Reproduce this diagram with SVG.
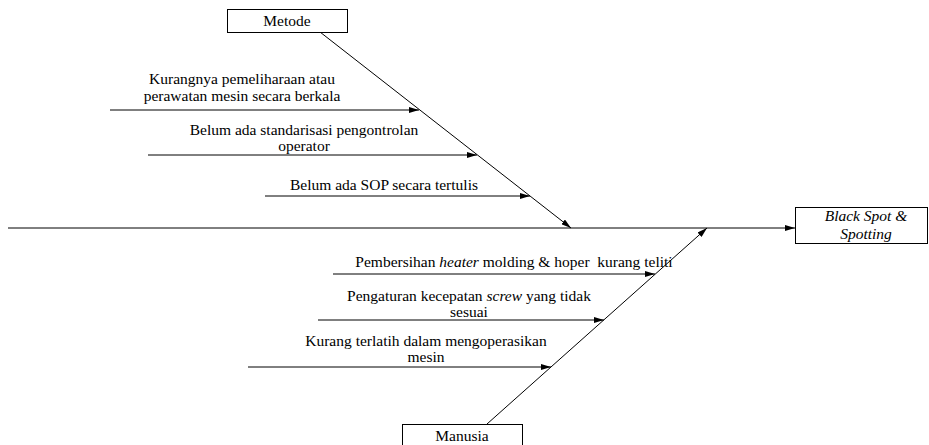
<svg xmlns="http://www.w3.org/2000/svg" width="929" height="445" viewBox="0 0 929 445">
<style>
text{font-family:'Liberation Serif','Times New Roman','DejaVu Serif',serif;font-size:15.5px;fill:#000;text-anchor:middle}
.box{fill:#fff;stroke:#000;stroke-width:1}
.ln{stroke:#000;stroke-width:1;fill:none;marker-end:url(#ah)}
.it{font-style:italic}
</style>
<defs>
<marker id="ah" viewBox="0 0 10 6" refX="10" refY="3" markerWidth="10" markerHeight="6" markerUnits="userSpaceOnUse" orient="auto">
<path d="M0,0 L10,3 L0,6 Z" fill="#000"/>
</marker>
</defs>
<rect width="929" height="445" fill="#fff"/>
<g id="connectors">
<line class="ln" x1="8" y1="228" x2="795" y2="228"/>
<line class="ln" x1="320" y1="32" x2="571" y2="228"/>
<line class="ln" x1="487" y1="424" x2="707" y2="228"/>
<line class="ln" x1="110" y1="110" x2="419" y2="110"/>
<line class="ln" x1="148" y1="155" x2="477" y2="155"/>
<line class="ln" x1="265" y1="196" x2="530" y2="196"/>
<line class="ln" x1="333" y1="274" x2="655" y2="274"/>
<line class="ln" x1="318" y1="320" x2="604" y2="320"/>
<line class="ln" x1="248" y1="367" x2="551" y2="367"/>
</g>
<g id="metode">
<rect class="box" x="227.5" y="9.5" width="120" height="23"/>
<text x="287" y="26">Metode</text>
</g>
<g id="manusia">
<rect class="box" x="402.5" y="424.5" width="120" height="25"/>
<text x="462" y="441">Manusia</text>
</g>
<g id="effect">
<rect class="box" x="795.5" y="207.5" width="132" height="36"/>
<text class="it" x="866" y="221">Black Spot &amp;</text>
<text class="it" x="866" y="239">Spotting</text>
</g>
<g id="cause1">
<text x="242" y="84">Kurangnya pemeliharaan atau</text>
<text x="242" y="101">perawatan mesin secara berkala</text>
</g>
<g id="cause2">
<text x="304" y="135">Belum ada standarisasi pengontrolan</text>
<text x="304" y="151">operator</text>
</g>
<g id="cause3">
<text x="384" y="190">Belum ada SOP secara tertulis</text>
</g>
<g id="cause4">
<text x="514" y="267">Pembersihan <tspan class="it">heater</tspan> molding &amp; hoper&#160; kurang teliti</text>
</g>
<g id="cause5">
<text x="469" y="301">Pengaturan kecepatan <tspan class="it">screw</tspan> yang tidak</text>
<text x="469" y="317">sesuai</text>
</g>
<g id="cause6">
<text x="426" y="346">Kurang terlatih dalam mengoperasikan</text>
<text x="426" y="362">mesin</text>
</g>
</svg>
